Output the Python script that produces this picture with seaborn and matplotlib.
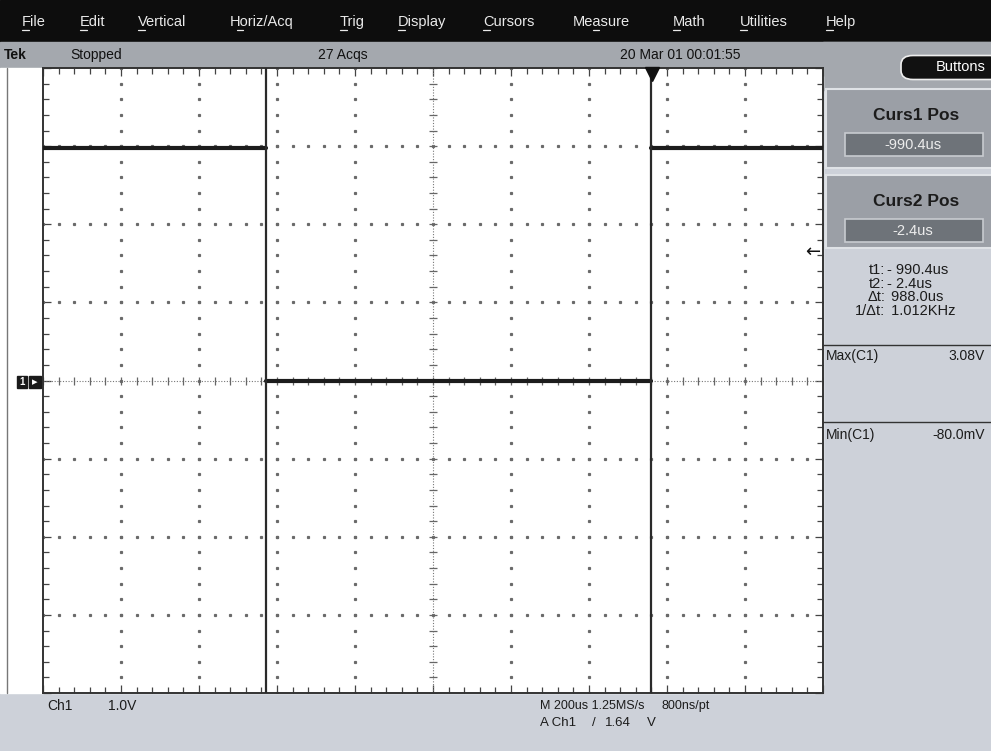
import numpy as np
import pandas as pd
import matplotlib.pyplot as plt
import seaborn as sns
from matplotlib import font_manager
from matplotlib.patches import Rectangle, FancyBboxPatch
from matplotlib.lines import Line2D

# trace: time in us, level in V
seg_id = [0, 1, 2]
seg_start = [-1561.5, -990.4, -2.4]
seg_end = [-990.4, -2.4, 438.5]
seg_level = [2.97, 0.0, 2.97]

curs_times = [-990.4, -2.4]
trig_level = 1.64
t_per_div = 200.0
v_per_div = 1.0

menu_items = ["File", "Edit", "Vertical", "Horiz/Acq", "Trig", "Display",
              "Cursors", "Measure", "Math", "Utilities", "Help"]
menu_x = [22, 80, 138, 230, 340, 398, 483, 573, 673, 740, 826]
menu_ul = [0, 0, 0, 1, 0, 0, 0, 3, 0, 0, 0]

readout_lbl = ["t1:", "t2:", "\u0394t:", "1/\u0394t:"]
readout_val = ["- 990.4us", "- 2.4us", " 988.0us", " 1.012KHz"]

W, H = 991, 751
names = {f.name for f in font_manager.fontManager.ttflist}
FONT = "Liberation Sans Narrow" if "Liberation Sans Narrow" in names else "Liberation Sans"

sns.set_style("white")
plt.rcParams["font.family"] = [FONT, "DejaVu Sans"]

fig = plt.figure(figsize=(W / 100, H / 100), dpi=100)
fig.patch.set_facecolor("#cdd1d9")


def fx(x):
    return x / W


def fy(y):
    return 1 - y / H


def frect(x0, y0, x1, y1, **kw):
    fig.patches.append(Rectangle((fx(x0), fy(y1)), fx(x1 - x0), (y1 - y0) / H,
                                 transform=fig.transFigure, **kw))


def ftext(x, y, s, **kw):
    kw.setdefault("va", "center")
    kw.setdefault("fontsize", 10)
    fig.text(fx(x), fy(y), s, **kw)


# background blocks (behind the axes)
frect(0, 0, W, 42, color="#0d0d0d", zorder=-5)
frect(0, 42, W, 68, color="#a4a8ae", zorder=-5)
frect(823, 42, W, 90, color="#a4a8ae", zorder=-5)
frect(0, 68, 823, 693, color="white", zorder=-5)
fig.lines.append(Line2D([fx(7), fx(7)], [fy(68), fy(693)], color="#777", lw=1,
                        transform=fig.transFigure))

# menu bar
for name, x, ul in zip(menu_items, menu_x, menu_ul):
    ftext(x, 22, name, color="#eaeaea", fontsize=10.5)
    ux = x + ul * 6.5
    fig.lines.append(Line2D([fx(ux), fx(ux + 6.5)], [fy(30), fy(30)], color="#eaeaea",
                            lw=0.9, transform=fig.transFigure))

# status bar
ftext(4, 55, "Tek", fontweight="bold", color="#111")
ftext(70, 55, "Stopped", color="#111")
ftext(318, 55, "27 Acqs", color="#111")
ftext(680, 55, "20 Mar 01 00:01:55", color="#111", ha="center")

# main graticule
ax = fig.add_axes([fx(43), fy(693), (823 - 43) / W, (693 - 68) / H])
ax.set_facecolor("white")
x0, x1 = seg_start[0], seg_end[-1]
y0, y1 = -4 * v_per_div, 4 * v_per_div
ax.set_xlim(x0, x1)
ax.set_ylim(y0, y1)

xmaj = [x0 + t_per_div * k for k in range(11)]
ymaj = [y0 + v_per_div * k for k in range(9)]
xmin = [x0 + t_per_div / 5 * k for k in range(51)]
ymin = [y0 + v_per_div / 5 * k for k in range(41)]
xc, yc = xmaj[5], ymaj[4]

dot = dict(color="#6a6a6a", marker="s", ms=1.3, linestyle="none")
for xg in xmaj[1:-1]:
    if xg != xc:
        ax.plot([xg] * len(ymin), ymin, **dot)
for yg in ymaj[1:-1]:
    if yg != yc:
        ax.plot(xmin, [yg] * len(xmin), **dot)
# center cross
ax.axhline(yc, color="#777", lw=0.8, ls=(0, (1, 1.5)))
ax.axvline(xc, color="#777", lw=0.8, ls=(0, (1, 1.5)))
ax.plot(xmin, [yc] * len(xmin), color="#666", marker="|", ms=6, mew=0.9, linestyle="none")
ax.plot([xc] * len(ymin), ymin, color="#666", marker="_", ms=6, mew=0.9, linestyle="none")

ax.set_xticks(xmaj)
ax.set_yticks(ymaj)
ax.set_xticks(xmin, minor=True)
ax.set_yticks(ymin, minor=True)
ax.tick_params(which="both", direction="in", top=True, right=True, bottom=True, left=True,
               labelbottom=False, labelleft=False, color="#444", width=0.9)
ax.tick_params(which="major", length=6)
ax.tick_params(which="minor", length=4)
for sp in ax.spines.values():
    sp.set_color("#333")
    sp.set_linewidth(1.4)

# waveform
rows = []
for s, a, b, v in zip(seg_id, seg_start, seg_end, seg_level):
    rows.append({"seg": s, "t": a, "v": v})
    rows.append({"seg": s, "t": b, "v": v})
df = pd.DataFrame(rows)
sns.lineplot(data=df, x="t", y="v", units="seg", estimator=None, color="#1c1c1c",
             lw=3.0, ax=ax, legend=False, zorder=5)
ax.set_xlabel("")
ax.set_ylabel("")

# cursors
for t in curs_times:
    ax.axvline(t, color="#2a2a2a", lw=1.6, zorder=6)

# trigger position & level markers
ax.plot([0], [y1 - 0.08], marker="v", ms=10, color="#111", clip_on=False, zorder=7)
ax.text(x1 - 6, trig_level, "\u2190", ha="right", va="center", fontsize=13,
        family="DejaVu Sans", color="#111")

# ground marker
frect(17, 376, 27, 388, color="#1a1a1a", zorder=3)
frect(29, 376, 41, 388, color="#1a1a1a", zorder=3)
ftext(22, 382, "1", color="white", fontsize=7, ha="center", fontweight="bold")
ftext(35, 382, "\u25b8", color="white", fontsize=8, ha="center", family="DejaVu Sans")

# right panel
fig.patches.append(FancyBboxPatch((fx(903), fy(78)), fx(97), 21 / H,
                                  boxstyle="round,pad=0.002,rounding_size=0.012",
                                  transform=fig.transFigure, fc="#111", ec="#eee", lw=1.2))
ftext(936, 67, "Buttons", color="white", ha="left", fontsize=10.5)

for (top, bot, title, val) in [(89, 168, "Curs1 Pos", "-990.4us"),
                               (175, 248, "Curs2 Pos", "-2.4us")]:
    frect(826, top, W + 2, bot, fc="#9b9fa6", ec="#dfe2e6", lw=1.5)
    ftext(916, top + 26, title, fontweight="bold", fontsize=12.5, ha="center", color="#1c1c1c")
    frect(845, top + 44, 983, top + 67, fc="#6e7379", ec="#c8cbd0", lw=1.2)
    ftext(913, top + 56, val, ha="center", color="#ececec", fontsize=10.5)

for i, (lb, vl) in enumerate(zip(readout_lbl, readout_val)):
    y = 270 + i * 13.7
    ftext(885, y, lb, ha="right", color="#1c1c1c", fontsize=10.5)
    ftext(887, y, vl, ha="left", color="#1c1c1c", fontsize=10.5)

for y in (345, 422):
    fig.lines.append(Line2D([fx(823), 1], [fy(y), fy(y)], color="#333", lw=1,
                            transform=fig.transFigure))
ftext(826, 356, "Max(C1)", color="#1c1c1c")
ftext(985, 356, "3.08V", color="#1c1c1c", ha="right")
ftext(826, 435, "Min(C1)", color="#1c1c1c")
ftext(985, 435, "-80.0mV", color="#1c1c1c", ha="right")

# bottom readouts
ftext(47, 706, "Ch1", color="#1c1c1c")
ftext(108, 706, "1.0V", color="#1c1c1c")
ftext(540, 706, "M 200us 1.25MS/s", color="#1c1c1c", fontsize=9)
ftext(662, 706, "800ns/pt", color="#1c1c1c", fontsize=9)
ftext(540, 723, "A Ch1", color="#1c1c1c", fontsize=9.5)
ftext(592, 723, "/", color="#1c1c1c", fontsize=9.5)
ftext(605, 723, "1.64", color="#1c1c1c", fontsize=9.5)
ftext(647, 723, "V", color="#1c1c1c", fontsize=9.5)

fig.savefig("out.png", dpi=100, facecolor=fig.get_facecolor())
